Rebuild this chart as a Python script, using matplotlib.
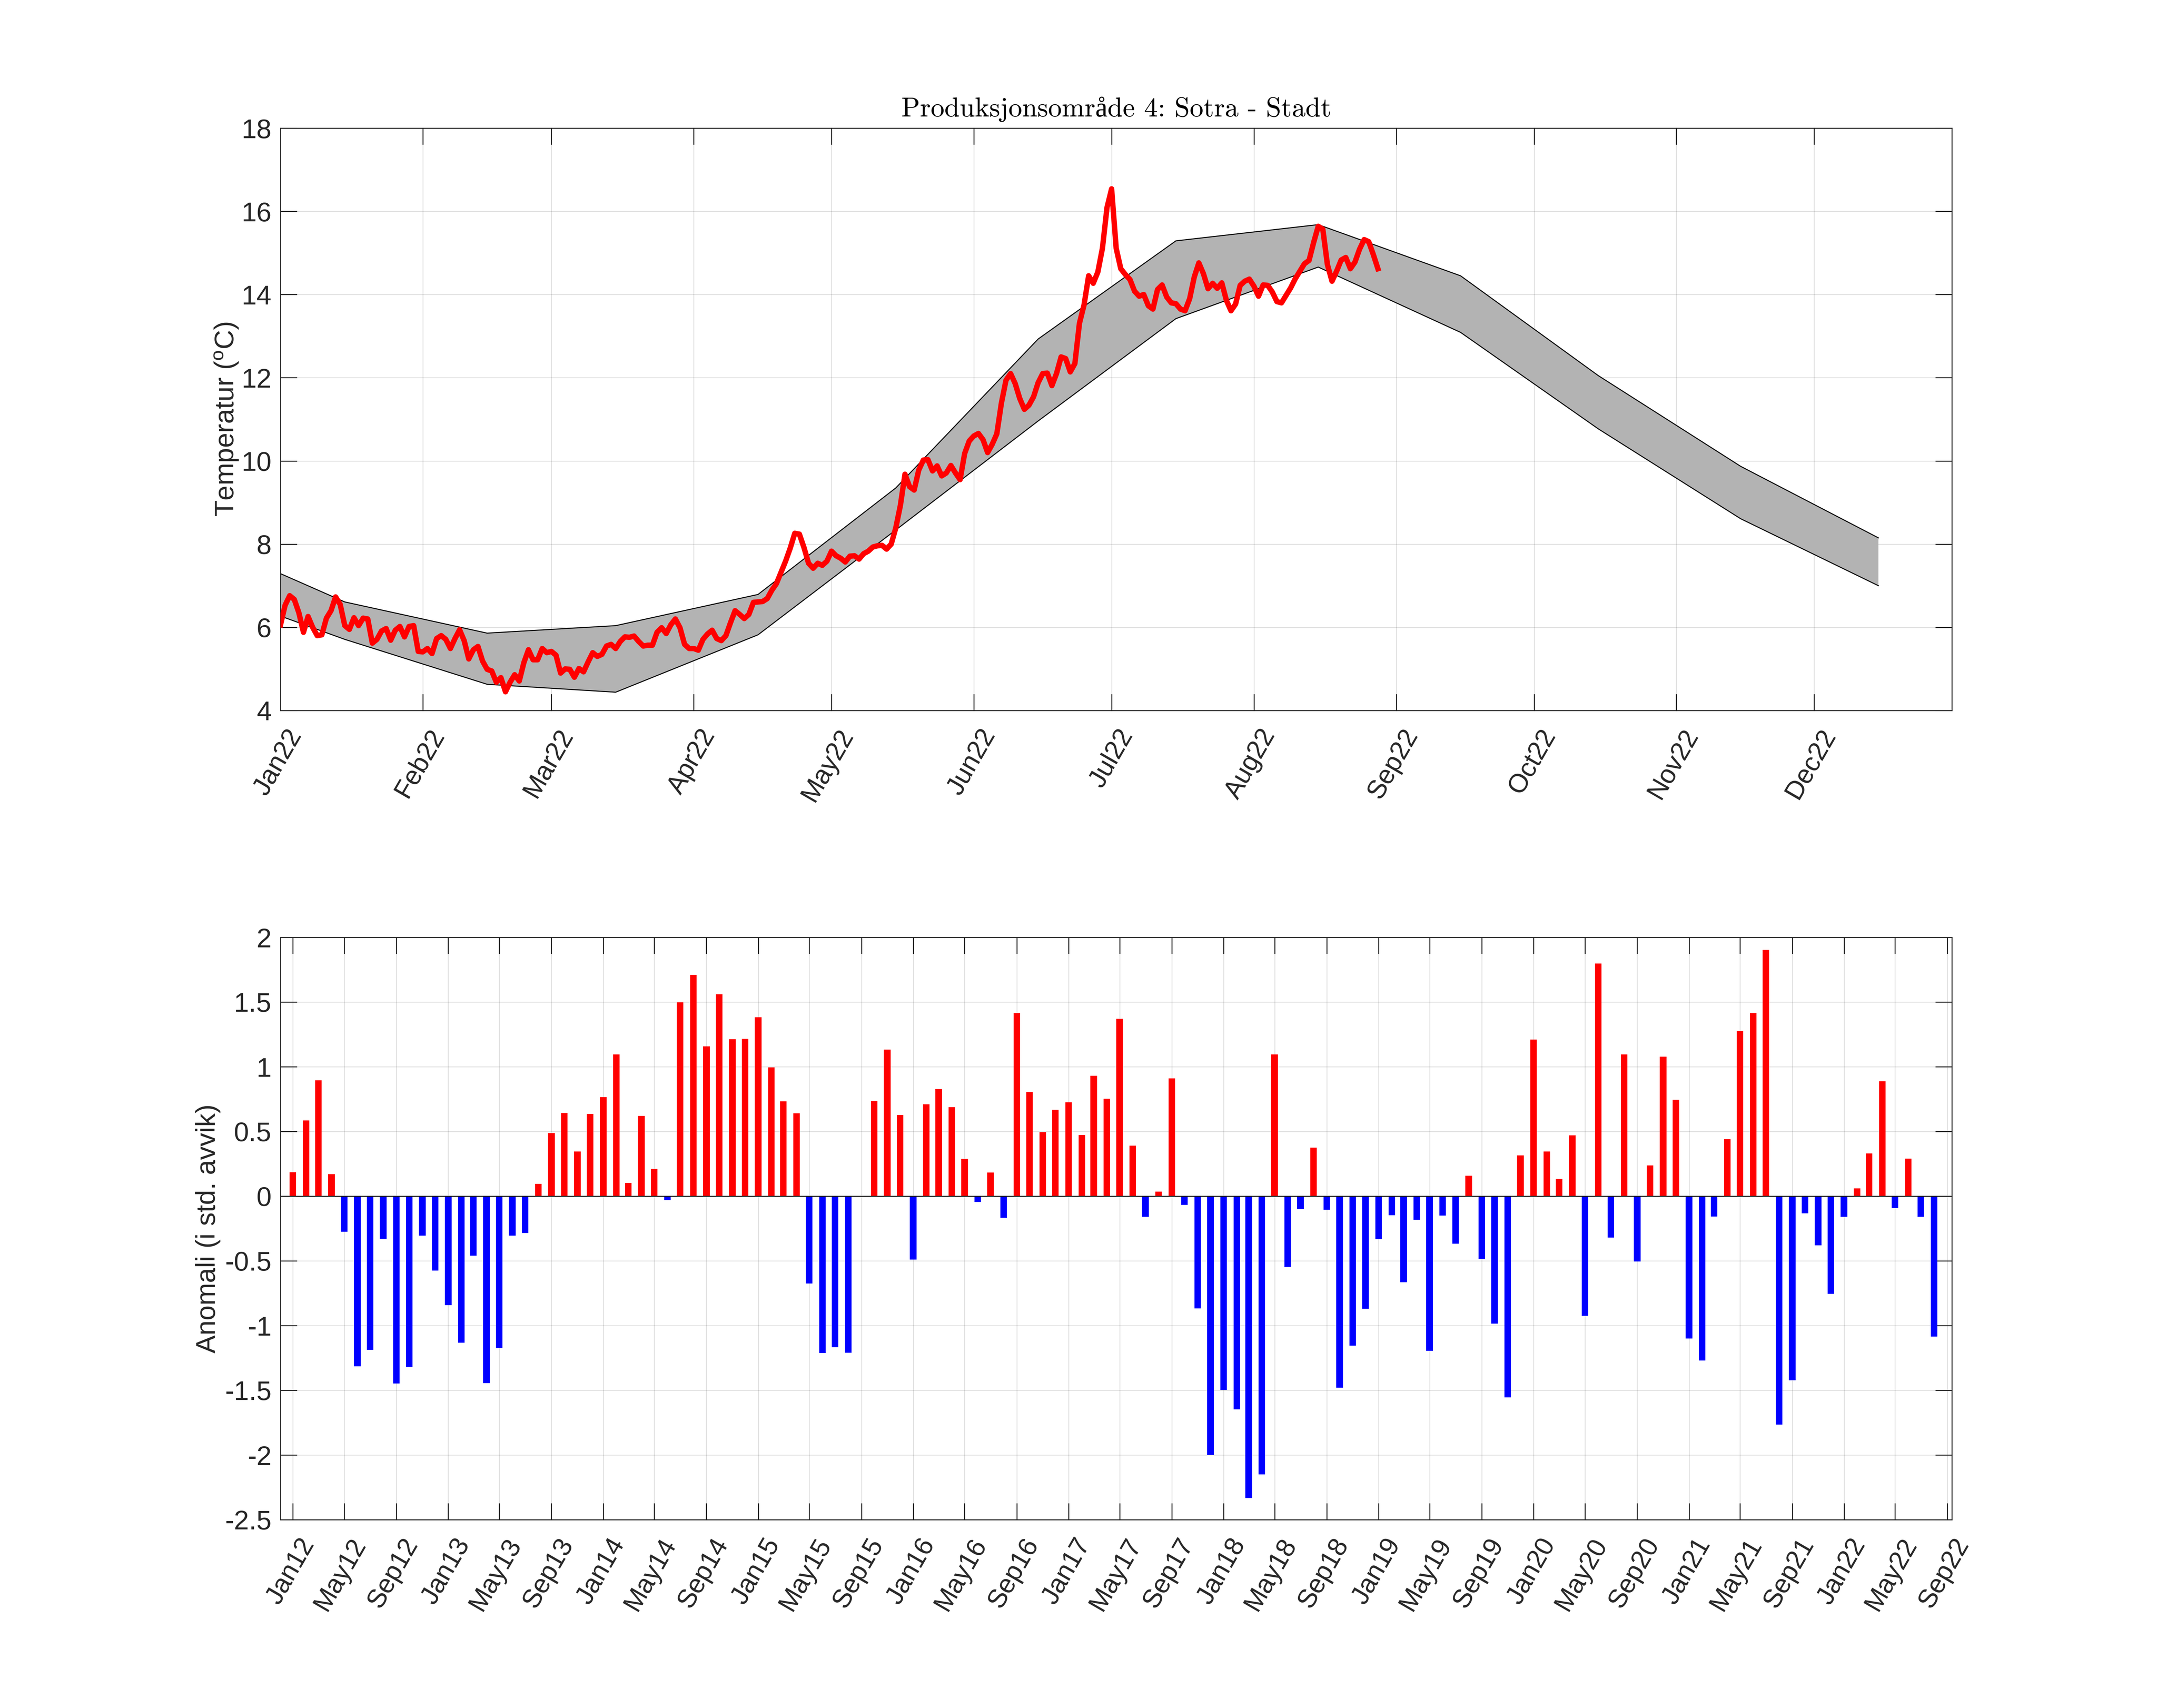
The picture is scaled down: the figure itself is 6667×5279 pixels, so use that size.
import numpy as np
import pandas as pd
import matplotlib
matplotlib.use('Agg')
import matplotlib.pyplot as plt
from matplotlib.transforms import ScaledTranslation
from datetime import datetime

plt.rcParams['font.family'] = ['Liberation Sans', 'DejaVu Sans']
plt.rcParams['mathtext.default'] = 'regular'

# Daily temperature 2022, from 1 January
temperature = [
 6.06,6.53,6.76,6.67,6.35,5.88,6.26,6.00,5.80,5.82,6.22,6.40,6.73,6.55,6.04,5.95,6.23,6.04,6.22,6.20,
 5.62,5.71,5.91,5.97,5.69,5.93,6.02,5.77,6.02,6.04,5.42,5.41,5.49,5.37,5.73,5.80,5.71,5.49,5.73,5.94,
 5.68,5.24,5.46,5.54,5.19,4.99,4.95,4.68,4.79,4.45,4.68,4.86,4.71,5.15,5.46,5.22,5.22,5.49,5.39,5.42,
 5.33,4.90,5.00,4.99,4.80,5.01,4.93,5.17,5.39,5.30,5.35,5.55,5.59,5.49,5.66,5.77,5.76,5.79,5.66,5.55,
 5.57,5.57,5.88,5.99,5.85,6.06,6.20,5.99,5.59,5.49,5.49,5.45,5.71,5.84,5.93,5.73,5.68,5.80,6.11,6.40,
 6.31,6.21,6.31,6.60,6.61,6.62,6.69,6.89,7.05,7.32,7.59,7.90,8.26,8.24,7.92,7.54,7.42,7.54,7.49,7.59,
 7.83,7.72,7.66,7.57,7.71,7.72,7.64,7.77,7.83,7.93,7.96,7.97,7.88,8.00,8.39,8.93,9.68,9.38,9.30,9.78,
 10.02,10.03,9.76,9.88,9.64,9.71,9.89,9.71,9.55,10.18,10.48,10.60,10.66,10.51,10.20,10.40,10.65,11.39,11.94,12.10,
 11.86,11.50,11.24,11.34,11.54,11.88,12.10,12.11,11.81,12.10,12.50,12.46,12.14,12.34,13.31,13.75,14.45,14.27,14.54,15.11,
 16.09,16.54,15.11,14.62,14.48,14.36,14.08,13.96,14.00,13.73,13.65,14.12,14.23,13.94,13.80,13.78,13.65,13.61,13.90,14.42,
 14.76,14.50,14.14,14.27,14.15,14.28,13.86,13.61,13.77,14.22,14.32,14.37,14.20,13.96,14.23,14.22,14.06,13.83,13.80,13.98,
 14.16,14.38,14.56,14.74,14.82,15.25,15.64,15.57,14.72,14.32,14.56,14.83,14.89,14.62,14.78,15.09,15.32,15.27,14.96,14.62]

band_dates = ['2022-01-01','2022-01-15','2022-02-15','2022-03-15','2022-04-15','2022-05-15','2022-06-15',
              '2022-07-15','2022-08-15','2022-09-15','2022-10-15','2022-11-15','2022-12-15']
band_upper = [7.29,6.61,5.86,6.04,6.79,9.35,12.93,15.29,15.68,14.45,12.05,9.87,8.15]
band_lower = [6.27,5.71,4.63,4.44,5.82,8.34,10.96,13.42,14.66,13.09,10.77,8.61,7.00]

# Monthly anomaly from January 2012
anomaly = [
 0.185,0.585,0.894,0.17,-0.276,-1.315,-1.188,-0.33,-1.448,-1.32,-0.306,-0.576,
 -0.842,-1.133,-0.46,-1.445,-1.173,-0.306,-0.285,0.094,0.488,0.642,0.345,0.636,
 0.764,1.094,0.103,0.621,0.209,-0.03,1.497,1.709,1.158,1.56,1.212,1.215,
 1.382,0.994,0.733,0.639,-0.676,-1.212,-1.167,-1.209,0.003,0.736,1.133,0.627,
 -0.491,0.709,0.827,0.688,0.288,-0.045,0.182,-0.167,1.415,0.806,0.494,0.667,
 0.724,0.473,0.93,0.752,1.37,0.391,-0.161,0.036,0.909,-0.067,-0.867,-2.0,
 -1.497,-1.648,-2.333,-2.15,1.094,-0.548,-0.1,0.376,-0.106,-1.479,-1.155,-0.87,
 -0.333,-0.148,-0.664,-0.182,-1.195,-0.15,-0.367,0.158,-0.484,-0.986,-1.555,0.315,
 1.21,0.345,0.132,0.469,-0.924,1.797,-0.319,1.096,-0.506,0.238,1.078,0.744,
 -1.1,-1.269,-0.158,0.44,1.276,1.415,1.903,-1.764,-1.423,-0.132,-0.381,-0.755,
 -0.161,0.059,0.33,0.887,-0.092,0.29,-0.161,-1.085]

top_xticklabels = ['Jan22','Feb22','Mar22','Apr22','May22','Jun22','Jul22','Aug22','Sep22','Oct22','Nov22','Dec22']
top_yticks = [4,6,8,10,12,14,16,18]
bottom_yticks = [-2.5,-2,-1.5,-1,-0.5,0,0.5,1,1.5,2]
bottom_yticklabels = ['-2.5','-2','-1.5','-1','-0.5','0','0.5','1','1.5','2']

W, H = 6667, 5279
DARK = '#262626'
fig = plt.figure(figsize=(W/400, H/400), dpi=400)
ax1 = fig.add_axes([867/W, (H-2196)/H, (6033-867)/W, 1800/H])
ax2 = fig.add_axes([867/W, (H-4697)/H, (6033-867)/W, 1800/H])

def style(ax):
    ax.grid(True, color=DARK, alpha=0.15, lw=0.45)
    ax.set_axisbelow(True)
    ax.tick_params(axis='both', direction='in', top=True, right=True, length=9.2, width=0.55,
                   color=DARK, labelcolor=DARK, pad=5)
    ax.tick_params(axis='y', labelsize=15)
    ax.tick_params(axis='x', labelsize=14.6, pad=11.5)
    for s in ax.spines.values():
        s.set_linewidth(0.55)
        s.set_color(DARK)

def shift_xlabels(ax):
    offset = ScaledTranslation(8.8/72, 0, fig.dpi_scale_trans)
    for lab in ax.get_xticklabels():
        lab.set_transform(lab.get_transform() + offset)

# Top panel
days = pd.date_range('2022-01-01', periods=len(temperature), freq='D')
bd = pd.to_datetime(band_dates)
ax1.fill_between(bd, band_lower, band_upper, facecolor='#b3b3b3', edgecolor='none', zorder=2)
ax1.plot(bd, band_upper, color='black', lw=0.55, zorder=2.1)
ax1.plot(bd, band_lower, color='black', lw=0.55, zorder=2.1)
ax1.plot(days, temperature, color='#ff0000', lw=3.0, zorder=3, solid_joinstyle='round')
ax1.set_xlim(datetime(2022,1,1), datetime(2022,12,31))
ax1.set_ylim(4, 18)
ax1.set_yticks(top_yticks)
ax1.set_xticks(pd.date_range('2022-01-01', periods=12, freq='MS'))
ax1.set_xticklabels(top_xticklabels, rotation=60, ha='right', rotation_mode='anchor', va='center')
style(ax1)
shift_xlabels(ax1)
ax1.set_ylabel('Temperatur ($^{o}$C)', fontsize=15, color=DARK, labelpad=0.8)
ax1.set_title('Produksjonsområde 4: Sotra - Stadt', fontsize=15.25, color='black', pad=6.5,
              family=['cmr10', 'Liberation Serif'])

# Bottom panel
months = pd.date_range('2012-01-01', periods=len(anomaly), freq='MS')
vals = np.array(anomaly)
colors = ['#ff0000' if v > 0 else '#0000ff' for v in vals]
ax2.bar(months, vals, width=15.5, color=colors, zorder=3, linewidth=0)
ax2.axhline(0, color=DARK, lw=0.55, zorder=3.1)
ax2.set_xlim(datetime(2011,12,3), datetime(2022,9,12))
ax2.set_ylim(-2.5, 2)
ax2.set_yticks(bottom_yticks)
ax2.set_yticklabels(bottom_yticklabels)
ticks = pd.date_range('2012-01-01', '2022-09-01', freq='4MS')
ax2.set_xticks(ticks)
ax2.set_xticklabels([t.strftime('%b%y') for t in ticks], rotation=60, ha='right', rotation_mode='anchor', va='center')
style(ax2)
shift_xlabels(ax2)
ax2.set_ylabel('Anomali (i std. avvik)', fontsize=15, color=DARK, labelpad=2.4)

fig.savefig('out.png', dpi=400)
